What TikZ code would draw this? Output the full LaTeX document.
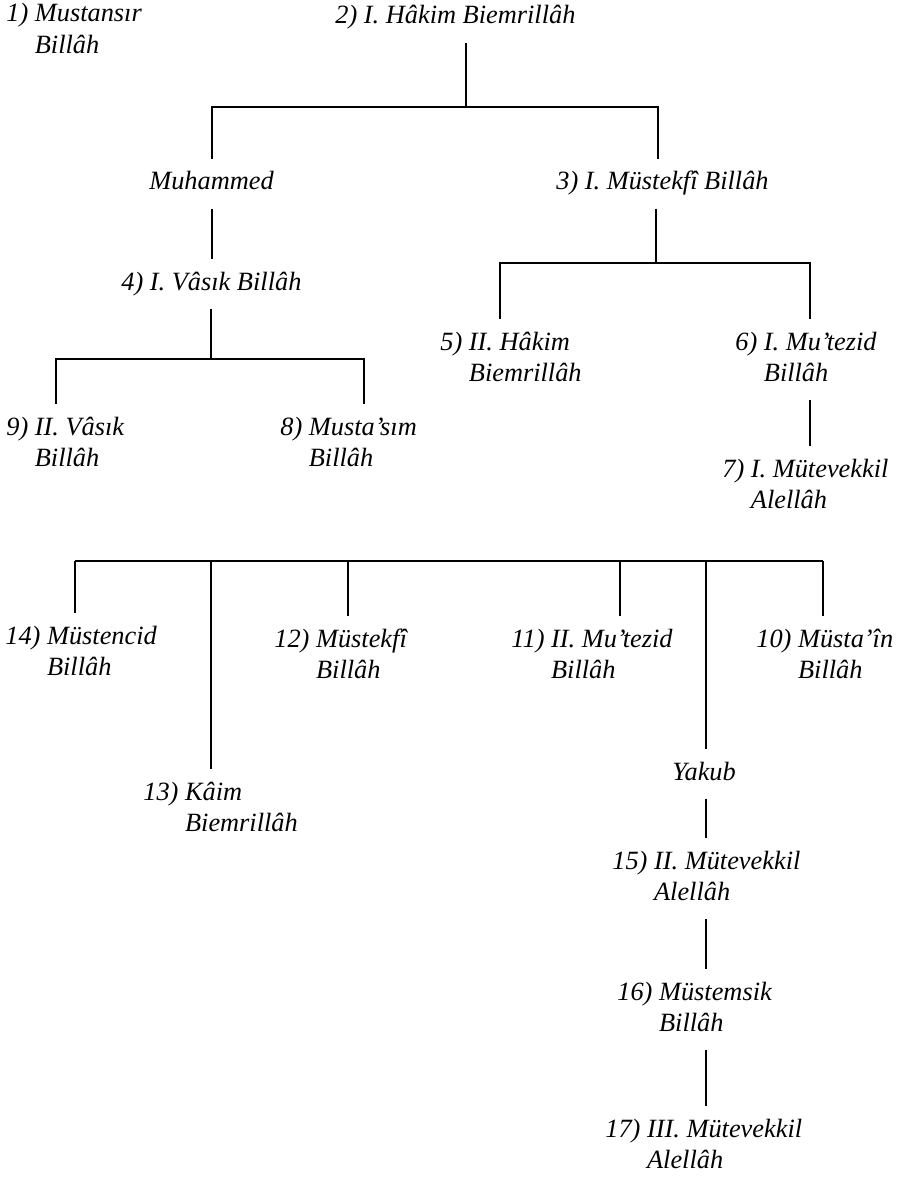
\documentclass[tikz,border=0pt]{standalone}
\usepackage{fontspec}
\setmainfont{Liberation Serif}
\usetikzlibrary{calc}
\newcommand{\kisi}[3]{#1 \begin{tabular}[t]{@{}l@{}}#2\\#3\end{tabular}}

\begin{document}
\begin{tikzpicture}[x=0.02cm, y=-0.02cm,
	isim/.style={anchor=base west, inner xsep=0pt, inner ysep=5pt,
		font=\fontsize{15}{18}\selectfont\itshape},
	hat/.style={line width=0.8pt}]
	\useasboundingbox (0,0) rectangle (898,1179);
	% isimler
	\node[isim] (n1) at (6,22) {\kisi{1)}{Mustansır}{Billâh}};
	\node[isim] (n2) at (335,24) {2) I. Hâkim Biemrillâh\strut};
	\node[isim] (muh) at (149,190) {Muhammed\strut};
	\node[isim] (n3) at (556,190) {3) I. Müstekfî Billâh\strut};
	\node[isim] (n4) at (121,290) {4) I. Vâsık Billâh\strut};
	\node[isim] (n5) at (440,350) {\kisi{5)}{II. Hâkim}{Biemrillâh}};
	\node[isim] (n6) at (735,350) {\kisi{6)}{I. Mu’tezid}{Billâh}};
	\node[isim] (n7) at (722,477) {\kisi{7)}{I. Mütevekkil}{Alellâh}};
	\node[isim] (n9) at (6,435) {\kisi{9)}{II. Vâsık}{Billâh}};
	\node[isim] (n8) at (280,435) {\kisi{8)}{Musta’sım}{Billâh}};
	\node[isim] (n14) at (5,644) {\kisi{14)}{Müstencid}{Billâh}};
	\node[isim] (n12) at (274,647) {\kisi{12)}{Müstekfî}{Billâh}};
	\node[isim] (n11) at (511,647) {\kisi{11)}{II. Mu’tezid}{Billâh}};
	\node[isim] (n10) at (756,647) {\kisi{10)}{Müsta’în}{Billâh}};
	\node[isim] (n13) at (143,800) {\kisi{13)}{Kâim}{Biemrillâh}};
	\node[isim] (yakub) at (672,780) {Yakub\strut};
	\node[isim] (n15) at (612,869) {\kisi{15)}{II. Mütevekkil}{Alellâh}};
	\node[isim] (n16) at (617,1000) {\kisi{16)}{Müstemsik}{Billâh}};
	\node[isim] (n17) at (605,1137) {\kisi{17)}{III. Mütevekkil}{Alellâh}};
	% baglantilar
	\begin{scope}[hat]
		\coordinate (s2) at (466,107);
		\coordinate (jmuh) at (212,107);
		\coordinate (jn3) at (658,107);
		\draw (s2 |- n2.south) -- (s2);
		\draw (jmuh |- muh.north) -- (jmuh) -- (jn3) -- (jn3 |- n3.north);
		\draw (jmuh |- muh.south) -- (jmuh |- n4.north);
		\coordinate (s3) at (656,263);
		\coordinate (jn5) at (500,263);
		\coordinate (jn6) at (810,263);
		\draw (s3 |- n3.south) -- (s3);
		\draw (jn5 |- n5.north) -- (jn5) -- (jn6) -- (jn6 |- n6.north);
		\draw (jn6 |- n6.south) -- (jn6 |- n7.north);
		\coordinate (s4) at (211,359);
		\coordinate (jn9) at (56,359);
		\coordinate (jn8) at (364,359);
		\draw (s4 |- n4.south) -- (s4);
		\draw (jn9 |- n9.north) -- (jn9) -- (jn8) -- (jn8 |- n8.north);
		\foreach \c/\x in {n14/75, n13/211, n12/348, n11/620, yakub/706, n10/823} {
			\coordinate (j\c) at (\x,561);
			\draw (j\c) -- (j\c |- \c.north);
		}
		\draw (jn14) -- (jn10);
		\draw (jyakub |- yakub.south) -- (jyakub |- n15.north);
		\draw (jyakub |- n15.south) -- (jyakub |- n16.north);
		\draw (jyakub |- n16.south) -- (jyakub |- n17.north);
	\end{scope}
\end{tikzpicture}
\end{document}
